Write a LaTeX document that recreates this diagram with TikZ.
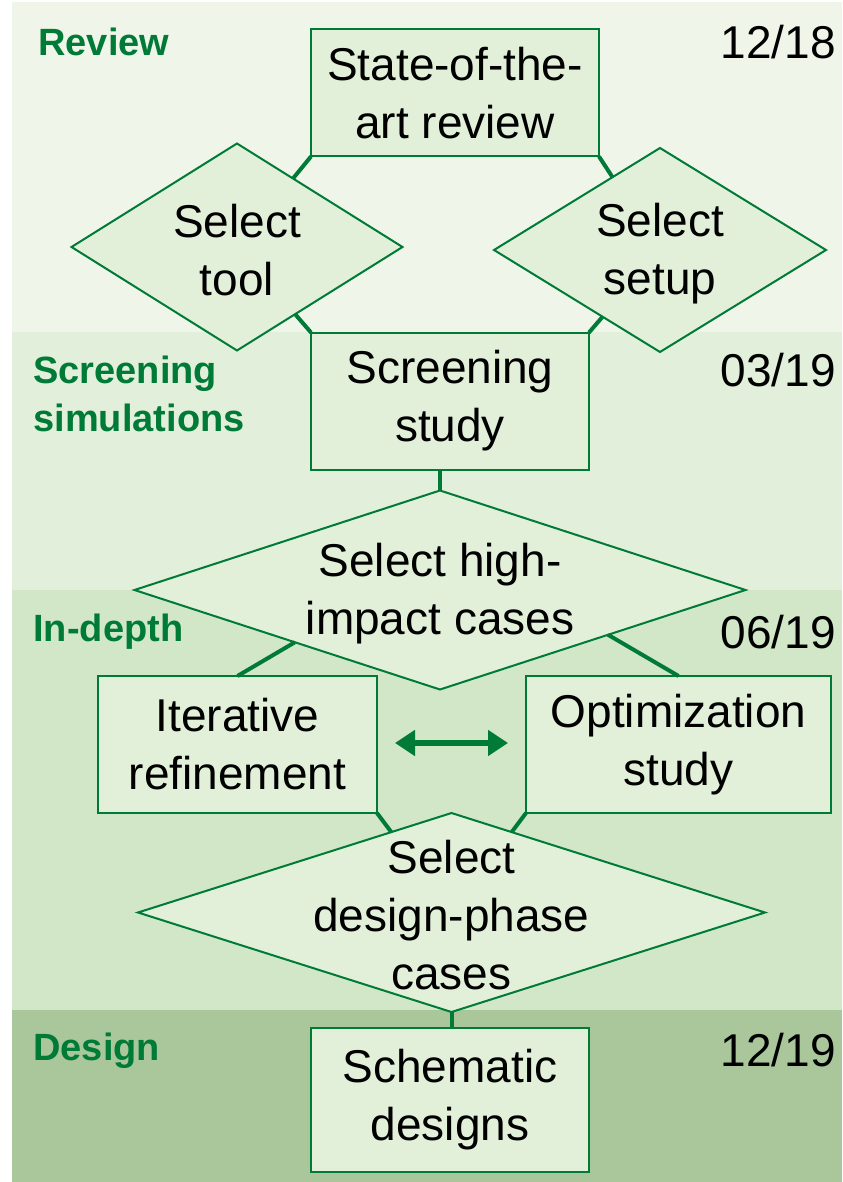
\documentclass[tikz,border=0pt]{standalone}
\usepackage{fontspec}
\setmainfont{Liberation Sans}
\usetikzlibrary{shapes.geometric,arrows.meta,calc}
\definecolor{bandA}{RGB}{239,246,233}
\definecolor{bandB}{RGB}{226,239,218}
\definecolor{bandC}{RGB}{209,231,199}
\definecolor{bandD}{RGB}{169,199,155}
\definecolor{nodefill}{RGB}{226,240,217}
\definecolor{dkgreen}{RGB}{0,122,55}
\tikzset{
  box/.style={draw=dkgreen, fill=nodefill, line width=1pt, rectangle, inner sep=0pt, outer sep=0pt, align=center, font=\fontsize{23}{29}\selectfont},
  dia/.style={draw=dkgreen, fill=nodefill, line width=1pt, diamond, inner sep=0pt, outer sep=0pt},
  diatext/.style={align=center, inner sep=0pt, font=\fontsize{23}{29}\selectfont},
  phase/.style={anchor=west, align=left, inner sep=0pt, text=dkgreen, font=\fontsize{19}{24}\selectfont\bfseries},
  datelbl/.style={anchor=east, inner sep=0pt, font=\fontsize{23}{28}\selectfont},
  conn/.style={draw=dkgreen, line width=2pt},
  dblarrow/.style={draw=dkgreen, line width=2.8pt, {Triangle[width=12.5pt,length=10pt]}-{Triangle[width=12.5pt,length=10pt]}},
}
\begin{document}
\begin{tikzpicture}[x=0.5pt,y=-0.5pt]
\useasboundingbox (0,0) rectangle (842,1182);
% bands
\fill[bandA] (12,2) rectangle (842,332);
\fill[bandB] (12,332) rectangle (842,590);
\fill[bandC] (12,590) rectangle (842,1010);
\fill[bandD] (12,1010) rectangle (842,1182);
% phase labels
\node[phase] (pReview) at (38,42) {Review};
\node[phase] (pScreen) at (33,394) {Screening\\simulations};
\node[phase] (pDepth) at (33,632) {In-depth};
\node[phase] (pDesign) at (33,1051) {Design};
% dates
\node[datelbl] (d1) at (836,42) {12/18};
\node[datelbl] (d2) at (836,370) {03/19};
\node[datelbl] (d3) at (836,632) {06/19};
\node[datelbl] (d4) at (836,1050) {12/19};
% nodes
\node[box, minimum width=144pt, minimum height=63.5pt] (state) at (455,93) {State-of-the-\\art review};
\node[dia, minimum width=165.5pt, minimum height=103.5pt, label={[diatext,yshift=-1.5pt]center:{Select\\tool}}] (tool) at (237,247) {};
\node[dia, minimum width=166pt, minimum height=102pt, label={[diatext,yshift=-2pt]center:{Select\\setup}}] (setup) at (660,250) {};
\node[box, minimum width=139pt, minimum height=68.5pt] (screen) at (450,401) {Screening\\study};
\node[dia, minimum width=305.5pt, minimum height=99.5pt, label={[diatext,yshift=-1.75pt]center:{Select high-\\impact cases}}] (high) at (440,590) {};
\node[box, minimum width=139.5pt, minimum height=68.5pt] (iter) at (237.5,744.5) {Iterative\\refinement};
\node[box, minimum width=152.5pt, minimum height=68.5pt] (opt) at (678.5,744.5) {Optimization\\study};
\node[dia, minimum width=313.5pt, minimum height=99.5pt, label={[diatext,yshift=-1.25pt]center:{Select\\design-phase\\cases}}] (dsel) at (451.5,912.5) {};
\node[box, minimum width=139pt, minimum height=72pt] (sch) at (450,1100) {Schematic\\designs};
% connectors
\draw[conn] (state.south west) -- (tool);
\draw[conn] (state.south east) -- (setup);
\draw[conn] (tool) -- (screen.north west);
\draw[conn] (setup) -- (screen.north east);
\draw[conn] (high.north) -- (high.north |- screen.south);
\draw[conn] ($(high.west)!0.525!(high.south)$) -- (iter.north);
\draw[conn] ($(high.east)!0.45!(high.south)$) -- (opt.north);
\draw[conn] (iter.south east) -- (dsel);
\draw[conn] (opt.south west) -- (dsel);
\draw[conn] (dsel.south) -- (dsel.south |- sch.north);
% double arrow
\coordinate (al) at (395,743);
\coordinate (ar) at (508,743);
\draw[dblarrow] (al) -- (ar);
\end{tikzpicture}
\end{document}
